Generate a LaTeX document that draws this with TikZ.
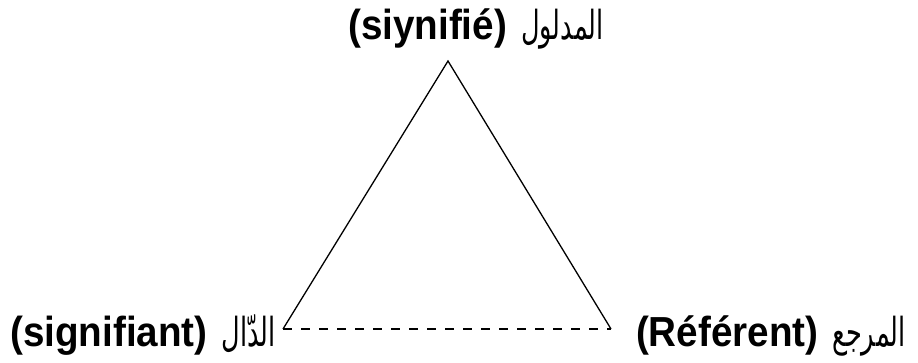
\documentclass[tikz,border=0pt]{standalone}
\usepackage{fontspec}
\setmainfont{Liberation Sans}
\newfontfamily\arabicfont[Script=Arabic]{DejaVu Sans}
\TeXXeTstate=1
\newcommand{\latinlbl}[1]{\scalebox{0.92}[1]{\fontsize{42}{46}\selectfont\bfseries #1}}
\newcommand{\arablbl}[1]{\scalebox{0.64}[1]{\fontsize{40}{46}\selectfont\arabicfont\beginR #1\endR}}
\tikzset{
  lbl/.style={inner sep=0pt},
  edge/.style={line width=1.3pt, black},
  dashedge/.style={edge, dash pattern=on 9pt off 9pt}
}
\begin{document}
\begin{tikzpicture}[x=1pt,y=-1pt]
\useasboundingbox (0,0) rectangle (918,363);
\coordinate (A) at (448,61);
\coordinate (B) at (283,329);
\coordinate (C) at (611,329);
\draw[edge] (B) -- (A) -- (C);
\draw[dashedge] (B) -- (C);
\node[lbl, anchor=base] (top) at (476,40) {\latinlbl{(siynifié)}\hspace{14pt}\arablbl{المدلول}};
\node[lbl, anchor=base west] (left) at (10,346) {\latinlbl{(signifiant)}\hspace{14pt}\arablbl{الدّال}};
\node[lbl, anchor=base east] (right) at (906,346) {\latinlbl{(Référent)}\hspace{14pt}\arablbl{المرجع}};
\end{tikzpicture}
\end{document}
